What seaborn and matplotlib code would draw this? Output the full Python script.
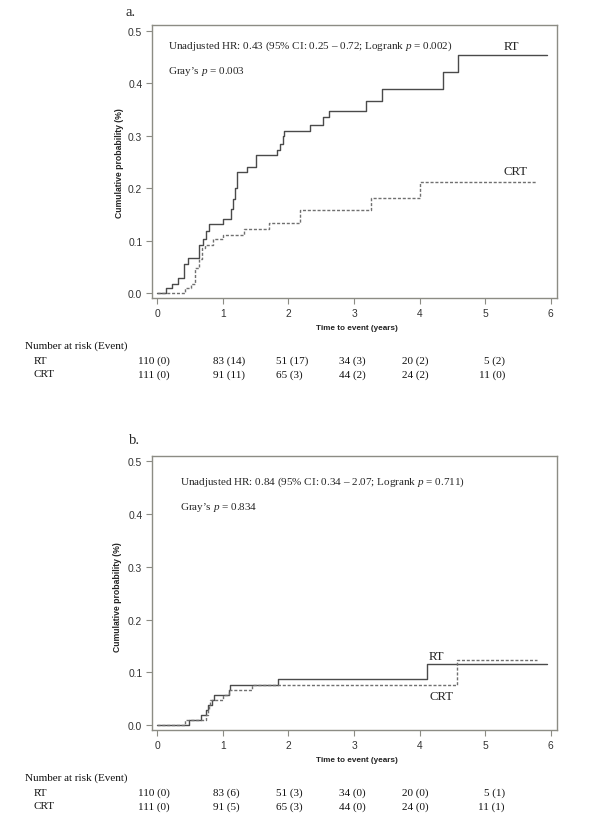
import matplotlib
matplotlib.use("Agg")
import matplotlib.pyplot as plt
import seaborn as sns
import pandas as pd

# ---------------- data ----------------
# Panel a (step curves: time in years, cumulative probability)
a_rt_t = [0, 0.13, 0.22, 0.31, 0.41, 0.47, 0.64, 0.69, 0.74, 0.79, 1.00, 1.12, 1.15, 1.18, 1.22, 1.37, 1.50, 1.82, 1.87, 1.91, 1.93, 2.33, 2.53, 2.62, 3.18, 3.43, 4.36, 4.58, 5.94]
a_rt_v = [0, 0.009, 0.018, 0.028, 0.056, 0.066, 0.092, 0.103, 0.118, 0.131, 0.141, 0.160, 0.180, 0.200, 0.231, 0.241, 0.264, 0.273, 0.285, 0.300, 0.309, 0.321, 0.335, 0.347, 0.366, 0.390, 0.421, 0.455, 0.455]
a_crt_t = [0, 0.42, 0.52, 0.58, 0.64, 0.68, 0.72, 0.85, 1.00, 1.32, 1.71, 2.17, 3.26, 4.00, 5.78]
a_crt_v = [0, 0.009, 0.018, 0.047, 0.065, 0.085, 0.092, 0.103, 0.111, 0.122, 0.133, 0.159, 0.181, 0.211, 0.211]

# Panel b
b_rt_t = [0, 0.48, 0.66, 0.74, 0.78, 0.83, 0.87, 1.09, 1.11, 1.84, 4.11, 5.95]
b_rt_v = [0, 0.009, 0.019, 0.028, 0.038, 0.047, 0.057, 0.066, 0.076, 0.087, 0.115, 0.115]
b_crt_t = [0, 0.42, 0.75, 0.77, 0.79, 0.81, 1.00, 1.10, 1.44, 4.57, 5.79]
b_crt_v = [0, 0.009, 0.019, 0.028, 0.038, 0.047, 0.057, 0.066, 0.076, 0.124, 0.124]

x_ticks = [0, 1, 2, 3, 4, 5, 6]
y_ticks = [0.0, 0.1, 0.2, 0.3, 0.4, 0.5]
y_tick_labels = ["0.0", "0.1", "0.2", "0.3", "0.4", "0.5"]

a_title = "a."
b_title = "b."
a_hr = "Unadjusted HR: 0.43 (95% CI: 0.25 \u2013 0.72; Logrank $p$ = 0.002)"
a_gray = "Gray\u2019s $p$ = 0.003"
b_hr = "Unadjusted HR: 0.84 (95% CI: 0.34 \u2013 2.07; Logrank $p$ = 0.711)"
b_gray = "Gray\u2019s $p$ = 0.834"

risk_header = "Number at risk (Event)"
groups = ["RT", "CRT"]
a_risk_rt = ["110 (0)", "83 (14)", "51 (17)", "34 (3)", "20 (2)", "5 (2)"]
a_risk_crt = ["111 (0)", "91 (11)", "65 (3)", "44 (2)", "24 (2)", "11 (0)"]
b_risk_rt = ["110 (0)", "83 (6)", "51 (3)", "34 (0)", "20 (0)", "5 (1)"]
b_risk_crt = ["111 (0)", "91 (5)", "65 (3)", "44 (0)", "24 (0)", "11 (1)"]

xlabel = "Time to event (years)"
ylabel = "Cumulative probability (%)"

# ---------------- style ----------------
sns.set_style("white")
plt.rcParams["font.family"] = ["Liberation Sans", "DejaVu Sans"]
plt.rcParams["mathtext.fontset"] = "custom"
plt.rcParams["mathtext.it"] = "Liberation Serif:italic"
plt.rcParams["mathtext.rm"] = "Liberation Serif"

W, H = 600, 829
fig = plt.figure(figsize=(W / 100, H / 100), dpi=100)

FRAME = "#8c8c84"
SERIF = ["Liberation Serif", "DejaVu Serif"]
RT_COLOR = "#4a4a4a"
CRT_COLOR = "#707070"
TXT = 8.0


def fx(px):
    return px / W


def fy(py):
    return 1 - py / H


def make_axes(left, top, right, bottom, ylim):
    ax = fig.add_axes([fx(left), fy(bottom), (right - left) / W, (bottom - top) / H])
    ax.set_xlim(-0.081, 6.096)
    ax.set_ylim(*ylim)
    for s in ax.spines.values():
        s.set_color(FRAME)
        s.set_linewidth(1.0)
        s.set_visible(True)
    ax.set_xticks(x_ticks)
    ax.set_yticks(y_ticks)
    ax.set_yticklabels(y_tick_labels)
    ax.tick_params(axis="both", direction="out", length=4, width=0.8, color=FRAME,
                   labelsize=7.4, labelcolor="#333333", pad=3,
                   bottom=True, left=True)
    ax.set_xlabel("")
    ax.set_ylabel("")
    return ax


def draw_panel(ax, rt_t, rt_v, crt_t, crt_v):
    df_rt = pd.DataFrame({"t": rt_t, "v": rt_v})
    df_crt = pd.DataFrame({"t": crt_t, "v": crt_v})
    sns.lineplot(data=df_rt, x="t", y="v", ax=ax, drawstyle="steps-post",
                 color=RT_COLOR, linewidth=1.0, estimator=None, sort=False)
    sns.lineplot(data=df_crt, x="t", y="v", ax=ax, drawstyle="steps-post",
                 color=CRT_COLOR, linewidth=1.0, estimator=None, sort=False,
                 linestyle=(0, (2.2, 1.3)))
    ax.set_xlabel("")
    ax.set_ylabel("")


def risk_table(base_y, rt_vals, crt_vals):
    # base_y = pixel y of axes bottom
    fig.text(fx(357), fy(base_y + 30), xlabel, ha="center", va="center",
             fontsize=5.9, fontweight="bold", color="#222222")
    fig.text(fx(25), fy(base_y + 47.5), risk_header, ha="left", va="center",
             fontsize=TXT, family=SERIF, color="#111111")
    col_x = [138, 213, 276, 339, 402, 505]
    for gi, (g, vals) in enumerate(zip(groups, [rt_vals, crt_vals])):
        yy = base_y + 62.5 + gi * 13.5
        fig.text(fx(34), fy(yy), g, ha="left", va="center", fontsize=TXT,
                 family=SERIF, color="#111111")
        for ci, v in enumerate(vals):
            ha = "right" if ci == len(vals) - 1 else "left"
            fig.text(fx(col_x[ci]), fy(yy), v, ha=ha, va="center", fontsize=TXT,
                     family=SERIF, color="#111111")


# ---------------- panel a ----------------
ax_a = make_axes(152, 26, 557, 299, (-0.0095, 0.5115))
draw_panel(ax_a, a_rt_t, a_rt_v, a_crt_t, a_crt_v)
fig.text(fx(125), fy(13), a_title, ha="left", va="center", fontsize=10.5, family=SERIF)
fig.text(fx(167.5), fy(46), a_hr, ha="left", va="center", fontsize=TXT, family=SERIF)
fig.text(fx(167.5), fy(71), a_gray, ha="left", va="center", fontsize=TXT, family=SERIF)
fig.text(fx(504), fy(47), "RT", ha="left", va="center", fontsize=9.2, family=SERIF)
fig.text(fx(504), fy(172), "CRT", ha="left", va="center", fontsize=9.2, family=SERIF)
fig.text(fx(119), fy(163), ylabel, ha="center", va="center", rotation=90,
         fontsize=6.2, fontweight="bold", color="#222222")
risk_table(299, a_risk_rt, a_risk_crt)

# ---------------- panel b ----------------
ax_b = make_axes(152, 457, 557, 731, (-0.0095, 0.51))
draw_panel(ax_b, b_rt_t, b_rt_v, b_crt_t, b_crt_v)
fig.text(fx(129), fy(441), b_title, ha="left", va="center", fontsize=10.5, family=SERIF)
fig.text(fx(180), fy(482), b_hr, ha="left", va="center", fontsize=TXT, family=SERIF)
fig.text(fx(180), fy(507), b_gray, ha="left", va="center", fontsize=TXT, family=SERIF)
fig.text(fx(429), fy(657), "RT", ha="left", va="center", fontsize=9.2, family=SERIF)
fig.text(fx(429), fy(697), "CRT", ha="left", va="center", fontsize=9.2, family=SERIF)
fig.text(fx(117), fy(597), ylabel, ha="center", va="center", rotation=90,
         fontsize=6.2, fontweight="bold", color="#222222")
risk_table(731, b_risk_rt, b_risk_crt)

fig.savefig("out.png", dpi=100, facecolor="white")
